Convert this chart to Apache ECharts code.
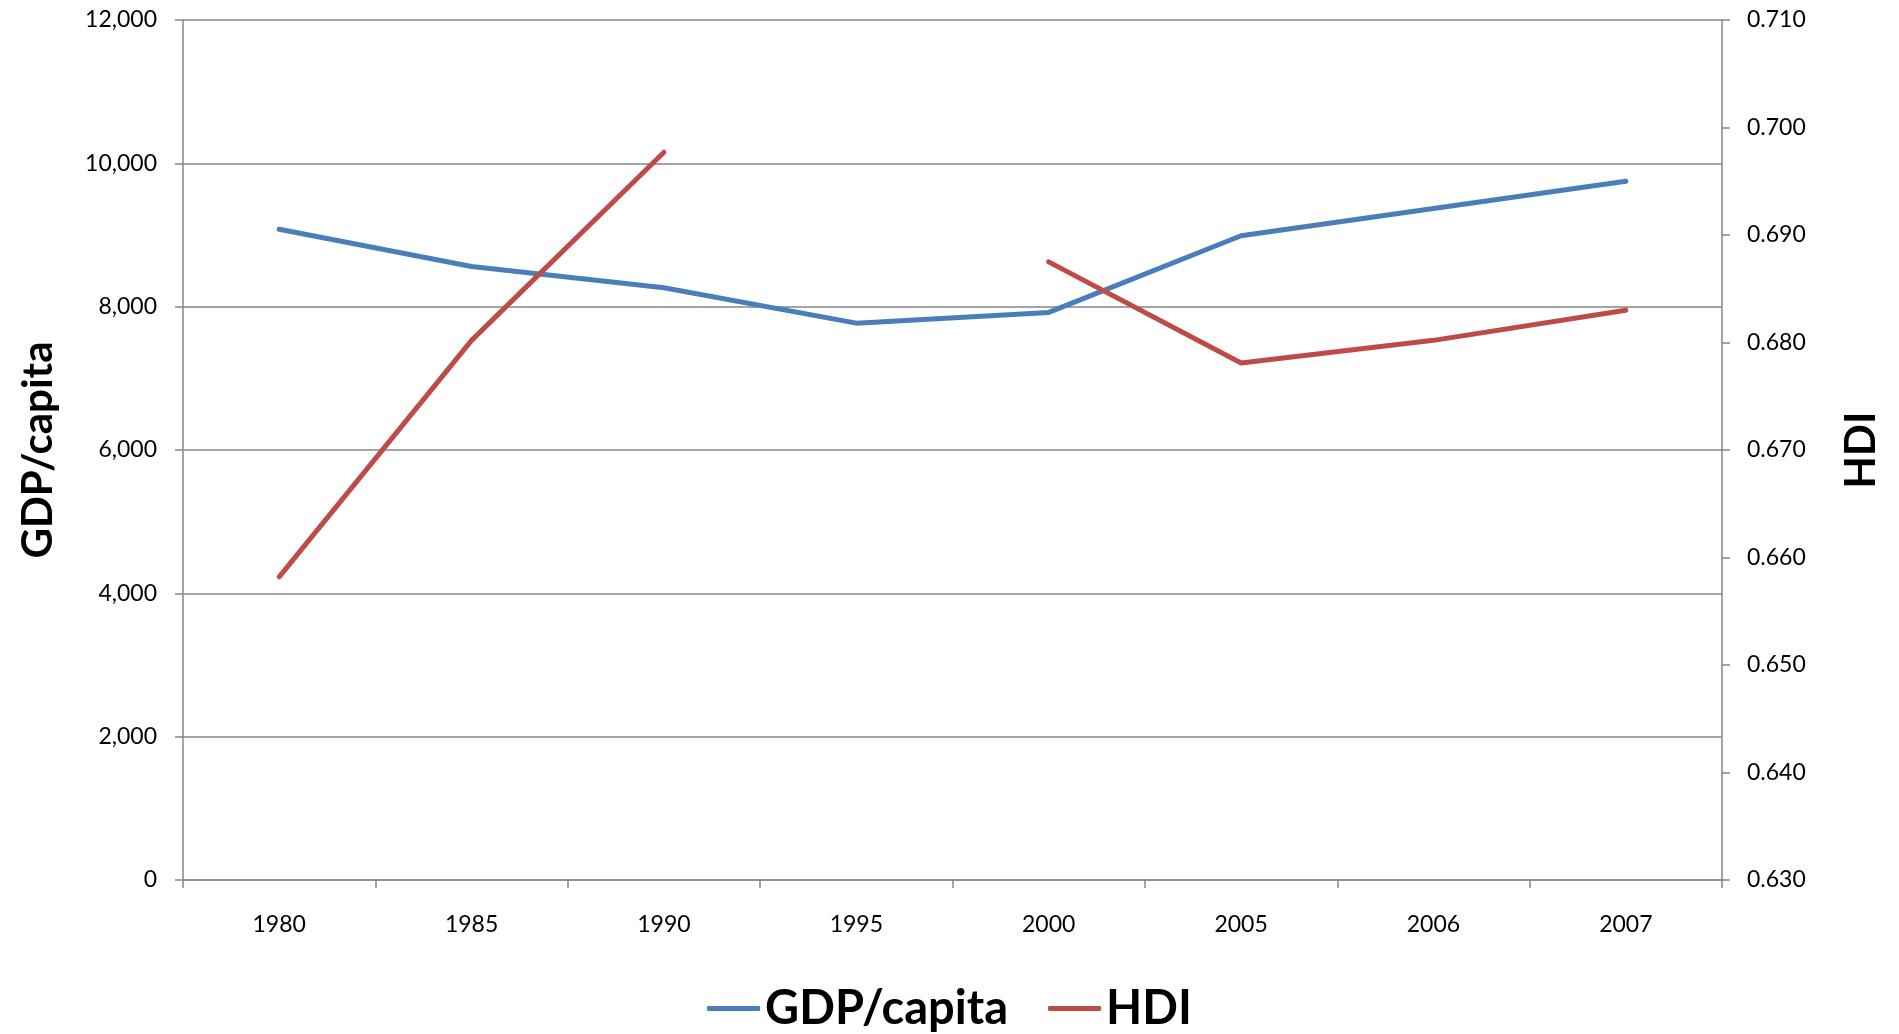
<!DOCTYPE html>
<html>
<head>
<meta charset="utf-8">
<script src="https://cdn.jsdelivr.net/npm/echarts@6/dist/echarts.min.js"></script>
<style>
html,body{margin:0;padding:0;background:#fff;}
#chart{width:1899px;height:1034px;}
</style>
</head>
<body>
<div id="chart"></div>
<script>
var years = ['1980','1985','1990','1995','2000','2005','2006','2007'];
var gdpPerCapita = [9080, 8560, 8265, 7770, 7920, 8990, 9370, 9750];
var hdi = [0.6582, 0.6802, 0.6977, null, 0.6875, 0.6781, 0.6802, 0.6830];
var gdpAxis = {min: 0, max: 12000, interval: 2000};
var hdiAxis = {min: 0.63, max: 0.71, interval: 0.01};

var FONT = 'Lato';
var GRAY = '#868686';
var chart = echarts.init(document.getElementById('chart'), null, {renderer: 'canvas'});
chart.setOption({
  backgroundColor: '#ffffff',
  animation: false,
  grid: {left: 183, right: 177, top: 20, bottom: 154, containLabel: false},
  legend: {
    data: ['GDP/capita', 'HDI'],
    left: 'center',
    top: 980,
    icon: 'roundRect',
    itemWidth: 53,
    itemHeight: 5,
    itemGap: 40,
    textStyle: {fontFamily: FONT, fontWeight: 'bold', fontSize: 47, color: '#000'}
  },
  xAxis: {
    type: 'category',
    data: years,
    boundaryGap: true,
    axisLine: {lineStyle: {color: GRAY, width: 1.5}},
    axisTick: {show: true, inside: false, length: 8, lineStyle: {color: GRAY, width: 1.5}},
    axisLabel: {fontFamily: FONT, fontSize: 23, color: '#000', margin: 33},
    splitLine: {show: false}
  },
  yAxis: [
    {
      type: 'value',
      position: 'left',
      min: gdpAxis.min, max: gdpAxis.max, interval: gdpAxis.interval,
      name: 'GDP/capita',
      nameLocation: 'middle',
      nameRotate: 90,
      nameGap: 124,
      nameTextStyle: {fontFamily: FONT, fontWeight: 'bold', fontSize: 42, color: '#000'},
      axisLine: {show: true, lineStyle: {color: GRAY, width: 1.5}},
      axisTick: {show: true, length: 8, lineStyle: {color: GRAY, width: 1.5}},
      axisLabel: {
        fontFamily: FONT, fontSize: 23, color: '#000', margin: 26,
        formatter: function (v) { return v.toLocaleString('en-US'); }
      },
      splitLine: {show: true, lineStyle: {color: GRAY, width: 1.5}}
    },
    {
      type: 'value',
      position: 'right',
      min: hdiAxis.min, max: hdiAxis.max, interval: hdiAxis.interval,
      name: 'HDI',
      nameLocation: 'middle',
      nameRotate: 90,
      nameGap: 118,
      nameTextStyle: {fontFamily: FONT, fontWeight: 'bold', fontSize: 42, color: '#000'},
      axisLine: {show: true, lineStyle: {color: GRAY, width: 1.5}},
      axisTick: {show: true, length: 8, lineStyle: {color: GRAY, width: 1.5}},
      axisLabel: {
        fontFamily: FONT, fontSize: 23, color: '#000', margin: 25,
        formatter: function (v) { return v.toFixed(3); }
      },
      splitLine: {show: false}
    }
  ],
  series: [
    {
      name: 'GDP/capita',
      type: 'line',
      yAxisIndex: 0,
      data: gdpPerCapita,
      showSymbol: false,
      symbol: 'none',
      color: '#4A7EBB',
      lineStyle: {color: '#4A7EBB', width: 5, cap: 'round', join: 'round'}
    },
    {
      name: 'HDI',
      type: 'line',
      yAxisIndex: 1,
      data: hdi,
      connectNulls: false,
      showSymbol: false,
      symbol: 'none',
      color: '#BE4B48',
      lineStyle: {color: '#BE4B48', width: 5, cap: 'round', join: 'round'}
    }
  ]
});
</script>
</body>
</html>
